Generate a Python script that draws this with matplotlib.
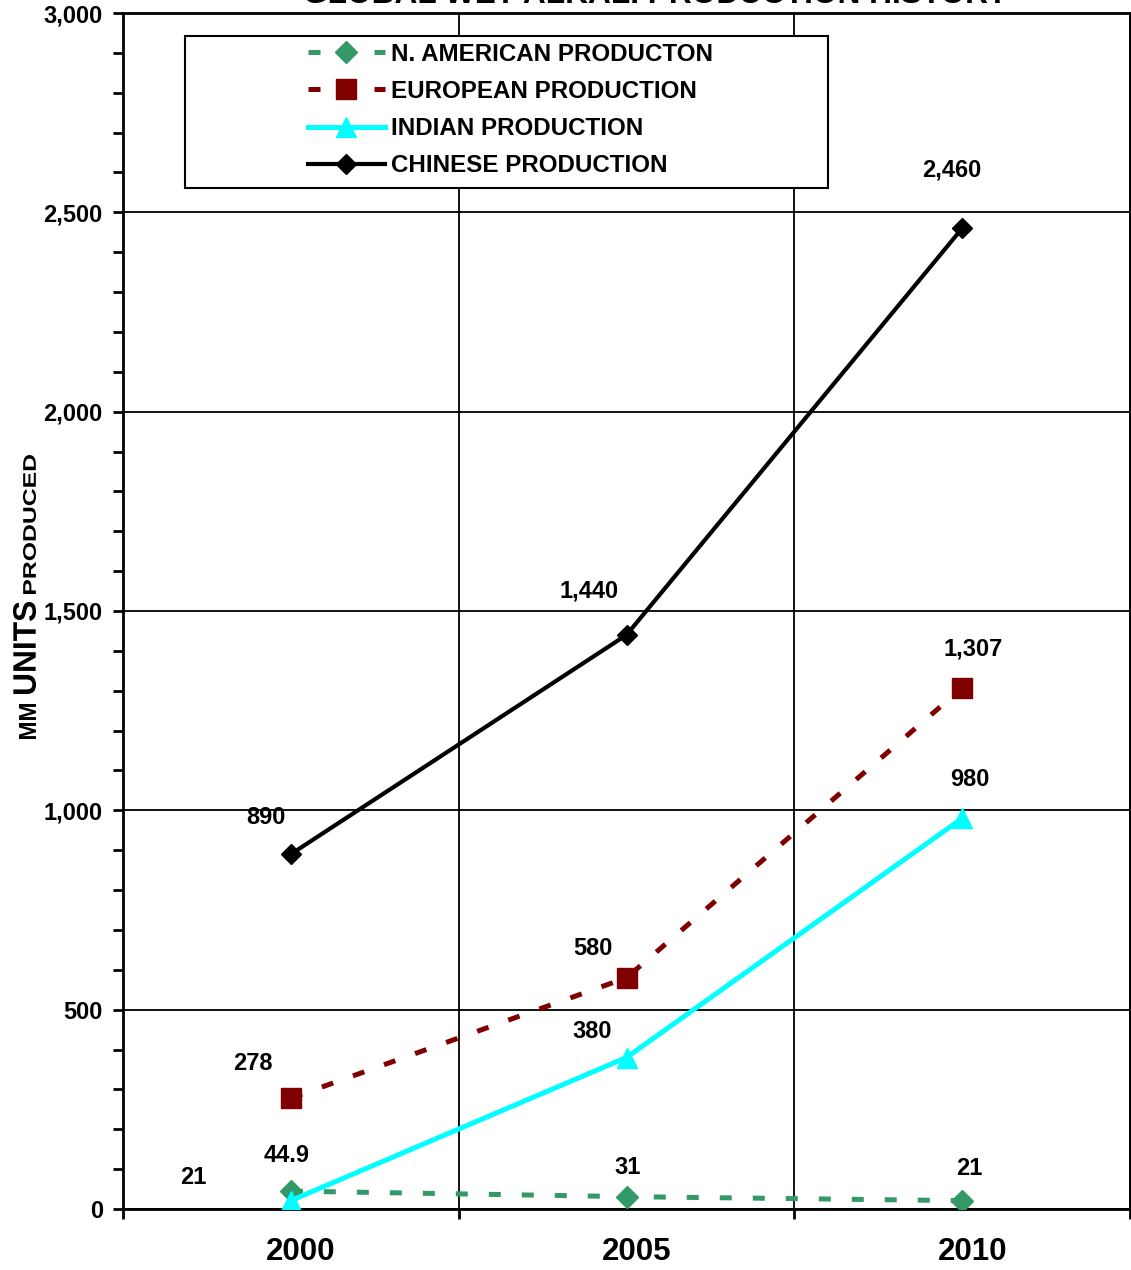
import matplotlib.pyplot as plt
import matplotlib.transforms as mtransforms
from matplotlib.patches import Rectangle, PathPatch
from matplotlib.textpath import TextPath
from matplotlib.font_manager import FontProperties
import numpy as np

plt.rcParams['font.family'] = ['Liberation Sans', 'DejaVu Sans']
plt.rcParams['font.weight'] = 'bold'

years = ['2000', '2005', '2010']
naProd = [44.9, 31, 21]
euProd = [278, 580, 1307]
inProd = [21, 380, 980]
cnProd = [890, 1440, 2460]

naLabels = ['44.9', '31', '21']
euLabels = ['278', '580', '1,307']
inLabels = ['21', '380', '980']
cnLabels = ['890', '1,440', '2,460']

W, H = 1131, 1270
fig = plt.figure(figsize=(W / 100, H / 100), dpi=100)
ax = fig.add_axes([123 / W, 1 - 1209 / H, 1007 / W, 1196 / H])

x = np.arange(len(years)) + 0.5

# series
ax.plot(x, naProd, color='#339966', lw=3.6, linestyle=(0, (2.4, 4.2)),
        marker='D', ms=11, label='N. AMERICAN PRODUCTON', zorder=4)
ax.plot(x, euProd, color='#800000', lw=3.6, linestyle=(0, (2.4, 4.2)),
        marker='s', ms=14, label='EUROPEAN PRODUCTION', zorder=4)
ax.plot(x, inProd, color='#00FFFF', lw=3.6, marker='^', ms=14,
        label='INDIAN PRODUCTION', zorder=5)
ax.plot(x, cnProd, color='black', lw=3.0, marker='D', ms=10,
        label='CHINESE PRODUCTION', zorder=5)

# data labels (offsets in px, converted to points)
def put_labels(vals, labels, offsets):
    for xi, v, lab, (dx, dy) in zip(x, vals, labels, offsets):
        ax.annotate(lab, (xi, v), xytext=(dx * 0.72, dy * 0.72),
                    textcoords='offset points', ha='center', va='center',
                    fontsize=17, fontweight='bold')

put_labels(cnProd, cnLabels, [(-25, 37), (-37, 44), (-10, 58)])
put_labels(euProd, euLabels, [(-38, 35), (-34, 29), (11, 39)])
put_labels(inProd, inLabels, [(-98, 23), (-34, 26), (8, 39)])
put_labels(naProd, naLabels, [(-4, 36), (1, 29), (7, 32)])

# axes
ax.set_xlim(0, 3)
ax.set_ylim(0, 3000)
ax.set_xticks([0, 1, 2, 3])
ax.set_xticklabels([])
ax.set_xticks(x, years, minor=True)
ax.tick_params(axis='x', which='major', direction='out', length=7, width=2)
ax.tick_params(axis='x', which='minor', length=0, pad=20, labelsize=22.5)
shift = mtransforms.ScaledTranslation(10 / 100, 0, fig.dpi_scale_trans)
for lab in ax.get_xticklabels(minor=True):
    lab.set_transform(lab.get_transform() + shift)

ax.set_yticks(np.arange(0, 3001, 500))
ax.set_yticklabels(['{:,}'.format(v) for v in range(0, 3001, 500)])
ax.set_yticks(np.arange(0, 3001, 100), minor=True)
ax.tick_params(axis='y', which='both', direction='out', length=7, width=2,
               labelsize=17, pad=7.5)
ax.grid(True, which='major', color='black', lw=1.3)
for s in ax.spines.values():
    s.set_linewidth(2)

# legend with its own frame
ax.add_patch(Rectangle((62 / 1007, 1 - (188 - 13) / 1196), 643 / 1007, 152 / 1196,
                       transform=ax.transAxes, facecolor='white',
                       edgecolor='black', lw=1.5, zorder=6))
leg = ax.legend(loc='upper left', bbox_to_anchor=(175 / 1007, 1 - 20 / 1196),
                frameon=False, fontsize=17.4, handlelength=3.2,
                handletextpad=0.25, labelspacing=0.59, borderaxespad=0)
leg.set_zorder(7)

# y label: three words, drawn as stretched text paths (pixel boxes)
fp = FontProperties(family='Liberation Sans', weight='bold')

def stretched_word(s, x0, x1, ytop, ybot):
    tp = TextPath((0, 0), s, size=100, prop=fp)
    ext = tp.get_extents()
    tr = (mtransforms.Affine2D()
          .translate(-ext.x0, -ext.y0)
          .scale((ybot - ytop) / ext.width, (x1 - x0) / ext.height)
          .rotate_deg(90)
          .translate(x1, H - ybot))
    fig.add_artist(PathPatch(tp, transform=tr, facecolor='black',
                             edgecolor='none', lw=0))

stretched_word('MM', 19, 36, 704, 739)
stretched_word('UNITS', 13, 36, 602, 694)
stretched_word('PRODUCED', 23, 36, 455, 594)

# title mostly cut off at the top edge
fig.text(655 / W, 1 - 3 / H, 'GLOBAL WET ALKALI PRODUCTION HISTORY',
         ha='center', va='baseline', fontsize=22.8, fontweight='bold')

fig.savefig('out.png', dpi=100)
